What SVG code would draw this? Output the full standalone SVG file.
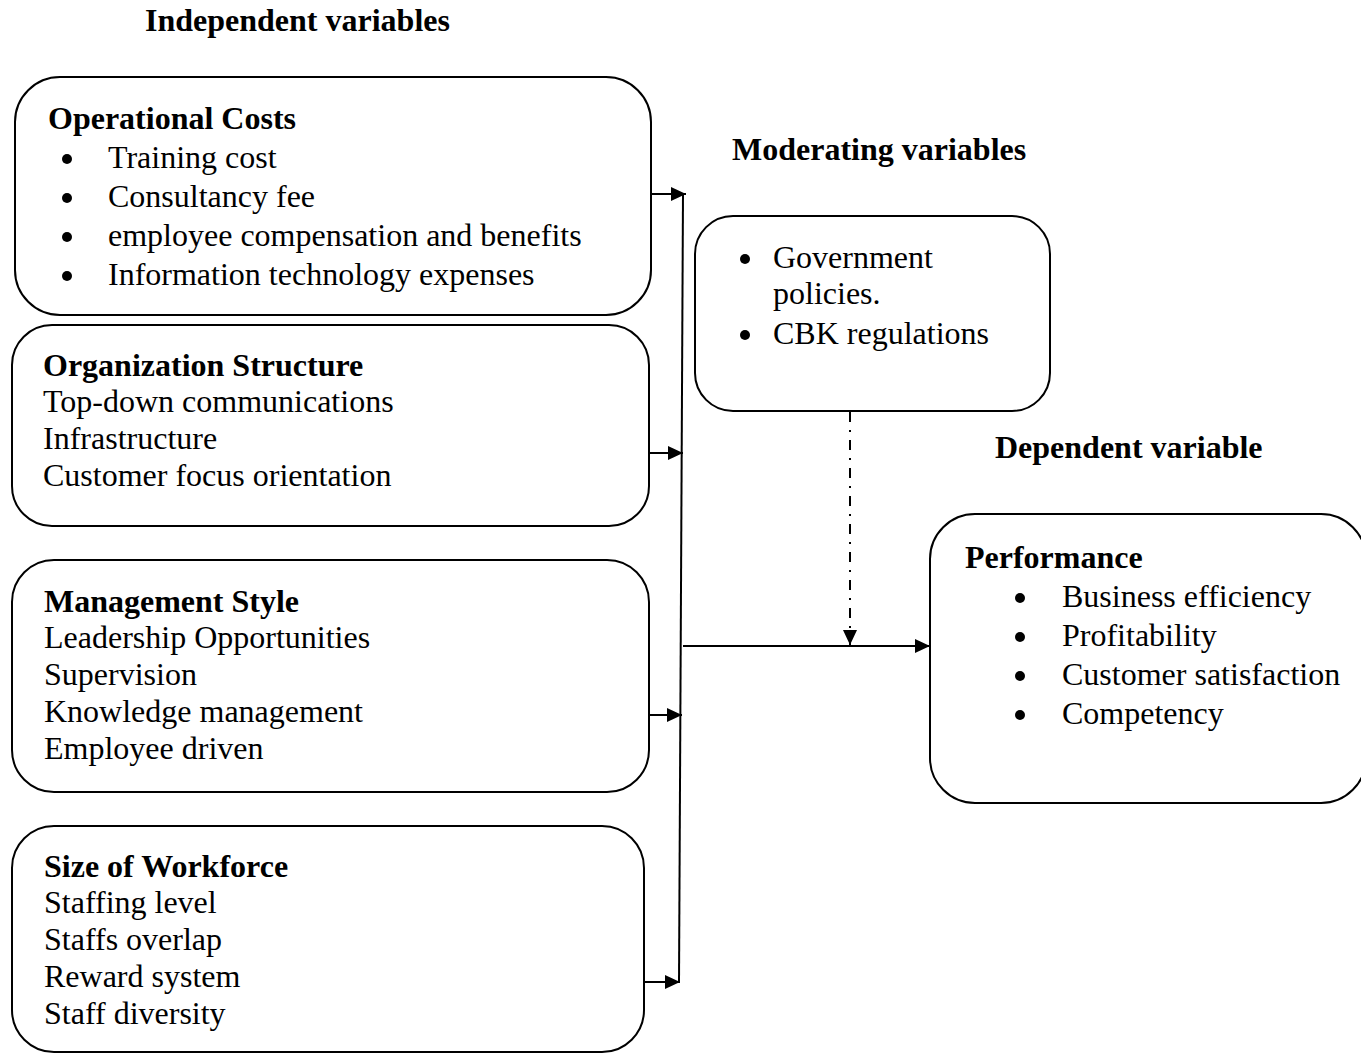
<svg xmlns="http://www.w3.org/2000/svg" width="1361" height="1054" viewBox="0 0 1361 1054">
<style>
text{font-family:"Liberation Serif","Times New Roman",serif;font-size:32px;fill:#000}
.b{font-weight:bold}
.box{fill:#fff;stroke:#000;stroke-width:2}
.ln{stroke:#000;stroke-width:2;fill:none}
.dot{fill:#000}
</style>
<defs>
<marker id="ah" markerWidth="15" markerHeight="14" refX="15" refY="7" orient="auto" markerUnits="userSpaceOnUse">
<path d="M0,0 L15,7 L0,14 Z" fill="#000"/>
</marker>
</defs>
<rect width="1361" height="1054" fill="#fff"/>
<g transform="translate(0,1)">
<text class="b" x="145" y="30">Independent variables</text>
<text class="b" x="732" y="159">Moderating variables</text>
<text class="b" x="995" y="457">Dependent variable</text>
</g>

<g id="operational-costs">
<rect class="box" x="15" y="77" width="636" height="238" rx="45"/>
<text class="b" x="48" y="129">Operational Costs</text>
<circle class="dot" cx="67" cy="159" r="5"/><text x="108" y="168">Training cost</text>
<circle class="dot" cx="67" cy="198" r="5"/><text x="108" y="207">Consultancy fee</text>
<circle class="dot" cx="67" cy="237" r="5"/><text x="108" y="246">employee compensation and benefits</text>
<circle class="dot" cx="67" cy="276" r="5"/><text x="108" y="285">Information technology expenses</text>
</g>

<g id="organization-structure">
<rect class="box" x="12" y="325" width="637" height="201" rx="40"/>
<text class="b" x="43" y="376">Organization Structure</text>
<text x="43" y="412">Top-down communications</text>
<text x="43" y="449">Infrastructure</text>
<text x="43" y="486">Customer focus orientation</text>
</g>

<g id="management-style">
<rect class="box" x="12" y="560" width="637" height="232" rx="42"/>
<text class="b" x="44" y="612">Management Style</text>
<text x="44" y="648">Leadership Opportunities</text>
<text x="44" y="685">Supervision</text>
<text x="44" y="722">Knowledge management</text>
<text x="44" y="759">Employee driven</text>
</g>

<g id="size-of-workforce">
<rect class="box" x="12" y="826" width="632" height="226" rx="42"/>
<text class="b" x="44" y="877">Size of Workforce</text>
<text x="44" y="913">Staffing level</text>
<text x="44" y="950">Staffs overlap</text>
<text x="44" y="987">Reward system</text>
<text x="44" y="1024">Staff diversity</text>
</g>

<g id="moderating">
<rect class="box" x="695" y="216" width="355" height="195" rx="38"/>
<circle class="dot" cx="745" cy="259" r="5"/><text x="773" y="268">Government</text>
<text x="773" y="304">policies.</text>
<circle class="dot" cx="745" cy="335" r="5"/><text x="773" y="344">CBK regulations</text>
</g>

<g id="performance">
<rect class="box" x="930" y="514" width="436" height="289" rx="45"/>
<text class="b" x="965" y="568">Performance</text>
<circle class="dot" cx="1020" cy="598" r="5"/><text x="1062" y="607">Business efficiency</text>
<circle class="dot" cx="1020" cy="637" r="5"/><text x="1062" y="646">Profitability</text>
<circle class="dot" cx="1020" cy="676" r="5"/><text x="1062" y="685">Customer satisfaction</text>
<circle class="dot" cx="1020" cy="715" r="5"/><text x="1062" y="724">Competency</text>
</g>

<g id="connectors">
<line class="ln" x1="683" y1="193" x2="679" y2="983"/>
<line class="ln" x1="651" y1="194" x2="686" y2="194" marker-end="url(#ah)"/>
<line class="ln" x1="649" y1="453" x2="683" y2="453" marker-end="url(#ah)"/>
<line class="ln" x1="649" y1="715" x2="682" y2="715" marker-end="url(#ah)"/>
<line class="ln" x1="644" y1="982" x2="680" y2="982" marker-end="url(#ah)"/>
<line class="ln" x1="683" y1="646" x2="930" y2="646" marker-end="url(#ah)"/>
<line class="ln" x1="850" y1="412" x2="850" y2="645" stroke-width="2.5" stroke-dasharray="10,8,2,8" marker-end="url(#ah)"/>
</g>
</svg>
